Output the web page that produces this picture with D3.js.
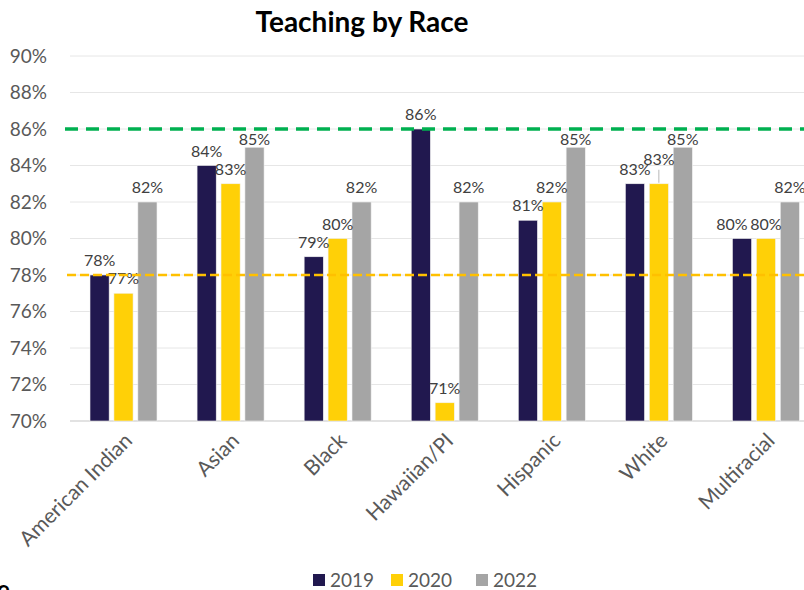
<!DOCTYPE html>
<html>
<head>
<meta charset="utf-8">
<script src="https://cdn.jsdelivr.net/npm/d3@7"></script>
<style>
  body { margin: 0; background: #fff; }
  svg { display: block; font-family: Lato, "Open Sans", sans-serif; }
</style>
</head>
<body>
<div id="chart"></div>
<script>
var categories = ["American Indian", "Asian", "Black", "Hawaiian/PI", "Hispanic", "White", "Multiracial"];
var years = ["2019", "2020", "2022"];
var values2019 = [78, 84, 79, 86, 81, 83, 80];
var values2020 = [77, 83, 80, 71, 82, 83, 80];
var values2022 = [82, 85, 82, 82, 85, 85, 82];
var yTicks = [70, 72, 74, 76, 78, 80, 82, 84, 86, 88, 90];
var targetHigh = 86;
var targetLow = 78;

var seriesValues = [values2019, values2020, values2022];
var colors = ["#21184f", "#ffd007", "#a5a5a5"];

var width = 804, height = 590;
var svg = d3.select("#chart").append("svg")
    .attr("width", width)
    .attr("height", height);

var x0 = d3.scaleBand().domain(categories).range([70, 819.5]);
var x1 = d3.scaleBand().domain(years).range([20, 87]).paddingInner(0.2);
var y = d3.scaleLinear().domain([70, 90]).range([421, 56]);

// gridlines
svg.append("g").selectAll("line")
    .data(yTicks)
    .enter().append("line")
    .attr("x1", 70).attr("x2", width)
    .attr("y1", function(d) { return y(d); })
    .attr("y2", function(d) { return y(d); })
    .attr("stroke", function(d) { return d == 70 ? "#d9d9d9" : "#e6e6e6"; })
    .attr("stroke-width", function(d) { return d == 70 ? 1.5 : 1; });

// y axis labels
var yAxis = svg.append("g")
    .attr("transform", "translate(50,0)")
    .call(d3.axisLeft(y).tickValues(yTicks).tickSize(0).tickFormat(function(d) { return d + "%"; }));
yAxis.select(".domain").remove();
yAxis.selectAll("text")
    .attr("font-size", 19)
    .attr("font-family", "Lato, sans-serif")
    .attr("fill", "#595959");

// bars
var rows = categories.map(function(c, i) {
    return years.map(function(yr, j) { return {cat: c, year: yr, v: seriesValues[j][i], k: j}; });
});

var groups = svg.append("g").selectAll("g")
    .data(rows)
    .enter().append("g")
    .attr("transform", function(d, i) { return "translate(" + x0(categories[i]) + ",0)"; });

groups.selectAll("rect")
    .data(function(d) { return d; })
    .enter().append("rect")
    .attr("x", function(d) { return x1(d.year); })
    .attr("width", x1.bandwidth())
    .attr("y", function(d) { return y(d.v); })
    .attr("height", function(d) { return y(70) - y(d.v); })
    .attr("fill", function(d) { return colors[d.k]; })
    .attr("stroke", "#f2f2f2")
    .attr("stroke-width", 0.6);

// data labels
groups.selectAll("text")
    .data(function(d) { return d; })
    .enter().append("text")
    .attr("x", function(d) {
        var shift = (d.cat == "Multiracial" && d.year == "2019") ? -10 : 0;
        return x1(d.year) + x1.bandwidth() / 2 + shift;
    })
    .attr("y", function(d) {
        var lift = 9;
        if (d.cat == "White" && d.year == "2020") lift = 19;
        // keep labels under the green line when they would touch it
        else if (d.v < targetHigh && y(d.v) - lift - 12 < y(targetHigh)) lift = 2;
        return y(d.v) - lift;
    })
    .attr("text-anchor", "middle")
    .attr("font-size", 16)
    .attr("fill", "#404040")
    .text(function(d) { return d.v + "%"; });

// leader line for the shifted label
var wx = x0("White") + x1("2020") + x1.bandwidth() / 2;
svg.append("line")
    .attr("x1", wx).attr("x2", wx)
    .attr("y1", y(83) - 1).attr("y2", y(83) - 14)
    .attr("stroke", "#a6a6a6").attr("stroke-width", 0.8);

// target lines
svg.append("line")
    .attr("x1", 65).attr("x2", width)
    .attr("y1", y(targetHigh)).attr("y2", y(targetHigh))
    .attr("stroke", "#00b050").attr("stroke-width", 3.5)
    .attr("stroke-dasharray", "13,8");

svg.append("line")
    .attr("x1", 67).attr("x2", width)
    .attr("y1", y(targetLow)).attr("y2", y(targetLow))
    .attr("stroke", "#ffc000").attr("stroke-width", 2.5)
    .attr("stroke-dasharray", "9,4");

// category labels
svg.append("g").selectAll("text")
    .data(categories)
    .enter().append("text")
    .attr("transform", function(d) {
        return "translate(" + (x0(d) + x0.bandwidth() / 2 + 10) + ",442) rotate(-45)";
    })
    .attr("text-anchor", "end")
    .attr("font-size", 21)
    .attr("fill", "#595959")
    .text(function(d) { return d; });

// title
svg.append("text")
    .attr("x", 362).attr("y", 32)
    .attr("text-anchor", "middle")
    .attr("font-size", 28)
    .attr("font-weight", "bold")
    .attr("fill", "#000")
    .text("Teaching by Race");

// legend
var legend = svg.append("g").selectAll("g")
    .data(years)
    .enter().append("g")
    .attr("transform", function(d, i) { return "translate(" + [313, 391, 476][i] + ",574)"; });
legend.append("rect")
    .attr("width", 12).attr("height", 12)
    .attr("fill", function(d, i) { return colors[i]; });
legend.append("text")
    .attr("x", 17).attr("y", 13)
    .attr("font-size", 19)
    .attr("fill", "#595959")
    .text(function(d) { return d; });

// clipped text at bottom left edge
svg.append("text")
    .attr("x", -3).attr("y", 598)
    .attr("font-size", 24)
    .attr("font-weight", "bold")
    .attr("fill", "#000")
    .text("e");
</script>
</body>
</html>
